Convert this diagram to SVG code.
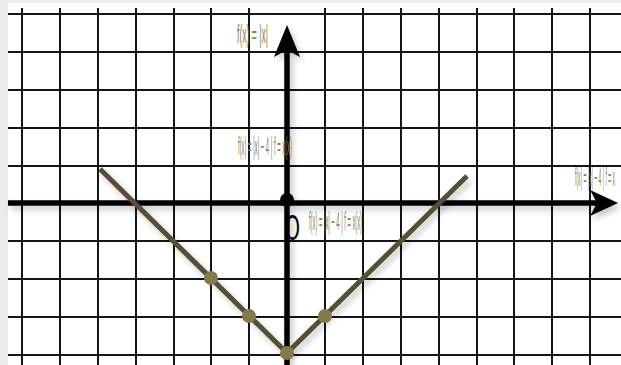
<svg xmlns="http://www.w3.org/2000/svg" width="621" height="365" viewBox="0 0 621 365">
<defs>
<style>
.grid line{stroke:#151515;stroke-width:2}
.axis{stroke:#000;stroke-width:5.5;fill:none}
.lbl{font-family:"Liberation Sans",Arial,sans-serif;font-size:25px;fill:#8a8058}
.dot{fill:#857a4c}
</style>
<filter id="sh" x="-20%" y="-20%" width="140%" height="140%">
<feDropShadow dx="3" dy="4" stdDeviation="3" flood-color="#000" flood-opacity="0.22"/>
</filter>
</defs>
<rect width="621" height="365" fill="#ebebeb"/>
<rect x="8" y="3" width="613" height="362" fill="#ffffff"/>
<g class="grid" id="grid">
<line x1="22" y1="8" x2="22" y2="365"/>
<line x1="60" y1="8" x2="60" y2="365"/>
<line x1="98" y1="8" x2="98" y2="365"/>
<line x1="136" y1="8" x2="136" y2="365"/>
<line x1="174" y1="8" x2="174" y2="365"/>
<line x1="211" y1="8" x2="211" y2="365"/>
<line x1="249" y1="8" x2="249" y2="365"/>
<line x1="325" y1="8" x2="325" y2="365"/>
<line x1="363" y1="8" x2="363" y2="365"/>
<line x1="401" y1="8" x2="401" y2="365"/>
<line x1="439" y1="8" x2="439" y2="365"/>
<line x1="477" y1="8" x2="477" y2="365"/>
<line x1="514" y1="8" x2="514" y2="365"/>
<line x1="552" y1="8" x2="552" y2="365"/>
<line x1="590" y1="8" x2="590" y2="365"/>
<line x1="8" y1="14" x2="621" y2="14"/>
<line x1="8" y1="52" x2="621" y2="52"/>
<line x1="8" y1="90" x2="621" y2="90"/>
<line x1="8" y1="128" x2="621" y2="128"/>
<line x1="8" y1="166" x2="621" y2="166"/>
<line x1="8" y1="241" x2="621" y2="241"/>
<line x1="8" y1="279" x2="621" y2="279"/>
<line x1="8" y1="317" x2="621" y2="317"/>
<line x1="8" y1="355" x2="621" y2="355"/>
</g>
<g id="axes" filter="url(#sh)">
<line class="axis" x1="8" y1="203" x2="600" y2="203"/>
<line class="axis" x1="287" y1="365" x2="287" y2="45"/>
<path d="M618,203 L590,190 L597,203 L590,216 Z" fill="#000"/>
<path d="M287,25 L274,57 L287,50 L300,57 Z" fill="#000"/>
<circle cx="287" cy="200" r="7" fill="#000"/>
</g>
<g id="graph" filter="url(#sh)">
<polyline points="100,169 287,353 467,176" fill="none" stroke="#574f35" stroke-width="5"/>
</g>
<g id="points">
<circle class="dot" cx="211" cy="278" r="7"/>
<circle class="dot" cx="249" cy="316" r="7"/>
<circle class="dot" cx="325" cy="316" r="7"/>
<circle class="dot" cx="287" cy="353" r="7"/>
</g>
<g id="labels">
<text x="285" y="240" font-family="'DejaVu Sans',sans-serif" font-size="34" fill="#000" textLength="15" lengthAdjust="spacingAndGlyphs">O</text>
<text class="lbl" x="237" y="43" textLength="31" lengthAdjust="spacingAndGlyphs">f(x) = |x|</text>
<text class="lbl" x="238" y="155" textLength="54" lengthAdjust="spacingAndGlyphs">f(x) = |x| − 4 | f = x(x)</text>
<text class="lbl" x="309" y="230" textLength="53" lengthAdjust="spacingAndGlyphs">f(x) = |x| − 4 | f = x(x)</text>
<text class="lbl" transform="translate(575,186) scale(0.2,1)" x="0" y="0" textLength="200" lengthAdjust="spacingAndGlyphs">f(x) = |x| − 4 | f = x</text>
</g>
</svg>
